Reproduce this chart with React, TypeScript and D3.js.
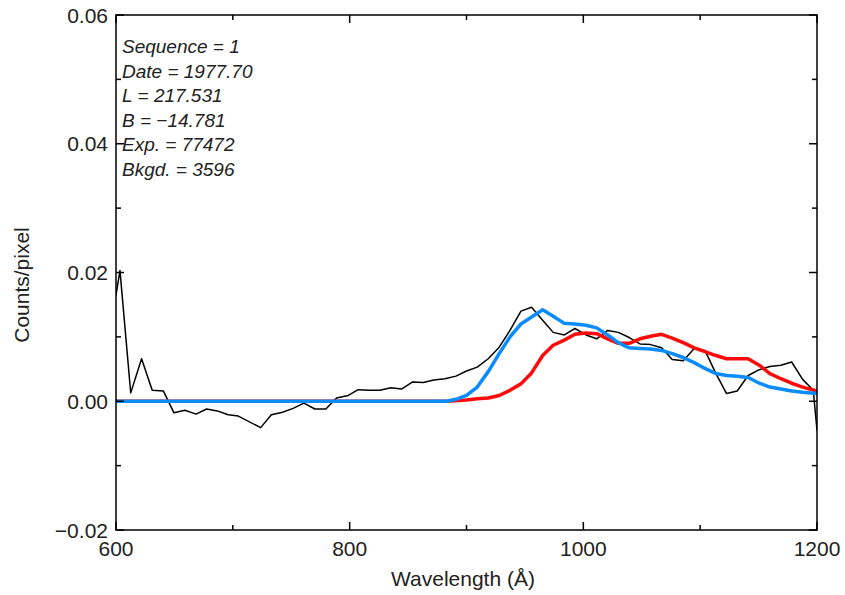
import React from "react";
import * as d3 from "d3";

const dataWl = [600, 603.4, 612.6, 621.9, 631.0, 640.5, 649.6, 659.0, 668.5, 677.6, 686.7, 696.0, 704.7, 723.8, 733.0, 742.5, 751.6, 760.8, 770.2, 779.6, 788.8, 798.8, 807.3, 816.7, 825.9, 835.3, 844.4, 853.9, 863.0, 872.1, 881.5, 891.0, 900.0, 909.2, 918.6, 928.0, 937.2, 946.6, 955.7, 965.2, 974.2, 983.7, 992.8, 1002.3, 1011.4, 1020.8, 1029.9, 1039.3, 1048.5, 1057.6, 1067.0, 1076.1, 1085.5, 1094.9, 1104.1, 1113.5, 1122.6, 1131.7, 1141.1, 1150.6, 1159.7, 1169.1, 1178.3, 1187.7, 1196.8, 1200];
const dataCounts = [0.0165, 0.0203, 0.0013, 0.0066, 0.0017, 0.0016, -0.0018, -0.0014, -0.0020, -0.0012, -0.0015, -0.0021, -0.0023, -0.0041, -0.0021, -0.0017, -0.0011, -0.0003, -0.0012, -0.0012, 0.0005, 0.0009, 0.0018, 0.0017, 0.0017, 0.0021, 0.0019, 0.0030, 0.0029, 0.0033, 0.0035, 0.0039, 0.0047, 0.0053, 0.0066, 0.0084, 0.0110, 0.0140, 0.0146, 0.0126, 0.0107, 0.0103, 0.0113, 0.0103, 0.0097, 0.0110, 0.0107, 0.0099, 0.0089, 0.0088, 0.0083, 0.0065, 0.0063, 0.0082, 0.0079, 0.0043, 0.0012, 0.0016, 0.0040, 0.0049, 0.0054, 0.0056, 0.0061, 0.0034, 0.0017, -0.0045];

const blueWl = [600, 883, 891, 900, 909.2, 918.6, 928, 937.2, 946.6, 955.7, 965.2, 974.2, 983.7, 992.8, 1002.3, 1011.4, 1020.8, 1029.9, 1039.3, 1048.5, 1057.6, 1067, 1076.1, 1085.5, 1094.9, 1104.1, 1113.5, 1122.6, 1131.7, 1141.1, 1150.6, 1159.7, 1169.1, 1178.3, 1187.7, 1200];
const blueModel = [0, 0, 0.0003, 0.0009, 0.0022, 0.0046, 0.0074, 0.0100, 0.0120, 0.0131, 0.0142, 0.0132, 0.0121, 0.0120, 0.0118, 0.0114, 0.0103, 0.0091, 0.0083, 0.0082, 0.0081, 0.0079, 0.0074, 0.0068, 0.0060, 0.0051, 0.0043, 0.0040, 0.0039, 0.0037, 0.0028, 0.0022, 0.0019, 0.0016, 0.0014, 0.0012];

const redWl = [600, 883, 900, 909.2, 918.6, 928, 937.2, 946.6, 955.7, 965.2, 974.2, 983.7, 992.8, 1002.3, 1011.4, 1020.8, 1029.9, 1039.3, 1048.5, 1057.6, 1067, 1076.1, 1085.5, 1094.9, 1104.1, 1113.5, 1122.6, 1131.7, 1141.1, 1150.6, 1159.7, 1169.1, 1178.3, 1187.7, 1200];
const redModel = [0, 0, 0.0002, 0.0004, 0.0005, 0.0009, 0.0017, 0.0027, 0.0044, 0.0071, 0.0087, 0.0095, 0.0104, 0.0106, 0.0105, 0.0097, 0.0090, 0.0090, 0.0097, 0.0101, 0.0104, 0.0098, 0.0091, 0.0083, 0.0077, 0.0071, 0.0066, 0.0066, 0.0066, 0.0056, 0.0043, 0.0035, 0.0028, 0.0022, 0.0016];

const xMajor = [600, 800, 1000, 1200];
const xMinor = [700, 900, 1100];
const yMajor = [-0.02, 0.0, 0.02, 0.04, 0.06];
const yMinor = [-0.01, 0.01, 0.03, 0.05];
const infoLines = ["Sequence = 1", "Date = 1977.70", "L = 217.531", "B = \u221214.781", "Exp. = 77472", "Bkgd. = 3596"];

const W = 845, H = 595;
const L = 116, R = 817, T = 15, B = 530;
const FONT = "'Liberation Sans', Arial, Helvetica, sans-serif";

export default function App() {
  const x = d3.scaleLinear().domain([600, 1200]).range([L, R]);
  const y = d3.scaleLinear().domain([-0.02, 0.06]).range([B, T]);
  const mk = (wl: number[], v: number[]) =>
    d3.line<number>().x((_, i) => x(wl[i])).y((d) => y(d))(v) || "";
  const fmtY = (v: number) => (v < 0 ? "\u2212" : "") + Math.abs(v).toFixed(2);
  const MAJ = 8, MIN = 5;
  return (
    <svg width={W} height={H} style={{ position: "absolute", left: 0, top: 0, background: "#fff" }} fontFamily={FONT}>
      <defs>
        <clipPath id="plot">
          <rect x={L} y={T} width={R - L} height={B - T} />
        </clipPath>
      </defs>
      <g clipPath="url(#plot)" fill="none" strokeLinejoin="round" strokeLinecap="round">
        <path d={mk(dataWl, dataCounts)} stroke="#000" strokeWidth={1.5} />
        <path d={mk(redWl, redModel)} stroke="#ff0a0a" strokeWidth={3.5} />
        <path d={mk(blueWl, blueModel)} stroke="#0a8cff" strokeWidth={3.5} />
      </g>
      <g stroke="#000" strokeWidth={1.5}>
        <rect x={L} y={T} width={R - L} height={B - T} fill="none" />
        {xMajor.map((v) => (
          <g key={"xM" + v}>
            <line x1={x(v)} x2={x(v)} y1={B} y2={B - MAJ} />
            <line x1={x(v)} x2={x(v)} y1={T} y2={T + MAJ} />
          </g>
        ))}
        {xMinor.map((v) => (
          <g key={"xm" + v}>
            <line x1={x(v)} x2={x(v)} y1={B} y2={B - MIN} />
            <line x1={x(v)} x2={x(v)} y1={T} y2={T + MIN} />
          </g>
        ))}
        {yMajor.map((v) => (
          <g key={"yM" + v}>
            <line x1={L} x2={L + MAJ} y1={y(v)} y2={y(v)} />
            <line x1={R} x2={R - MAJ} y1={y(v)} y2={y(v)} />
          </g>
        ))}
        {yMinor.map((v) => (
          <g key={"ym" + v}>
            <line x1={L} x2={L + MIN} y1={y(v)} y2={y(v)} />
            <line x1={R} x2={R - MIN} y1={y(v)} y2={y(v)} />
          </g>
        ))}
      </g>
      <g fill="#222" fontSize={21}>
        {xMajor.map((v) => (
          <text key={"xl" + v} x={x(v)} y={556} textAnchor="middle">{v}</text>
        ))}
        {yMajor.map((v) => (
          <text key={"yl" + v} x={108} y={y(v) + 7.5} textAnchor="end">{fmtY(v)}</text>
        ))}
        <text x={463} y={586} textAnchor="middle">Wavelength (Å)</text>
        <text transform={`translate(29,285) rotate(-90)`} textAnchor="middle">Counts/pixel</text>
      </g>
      <g fill="#222" fontSize={19} fontStyle="italic">
        {infoLines.map((s, i) => (
          <text key={s} x={122} y={53 + i * 24.5}>{s}</text>
        ))}
      </g>
    </svg>
  );
}
